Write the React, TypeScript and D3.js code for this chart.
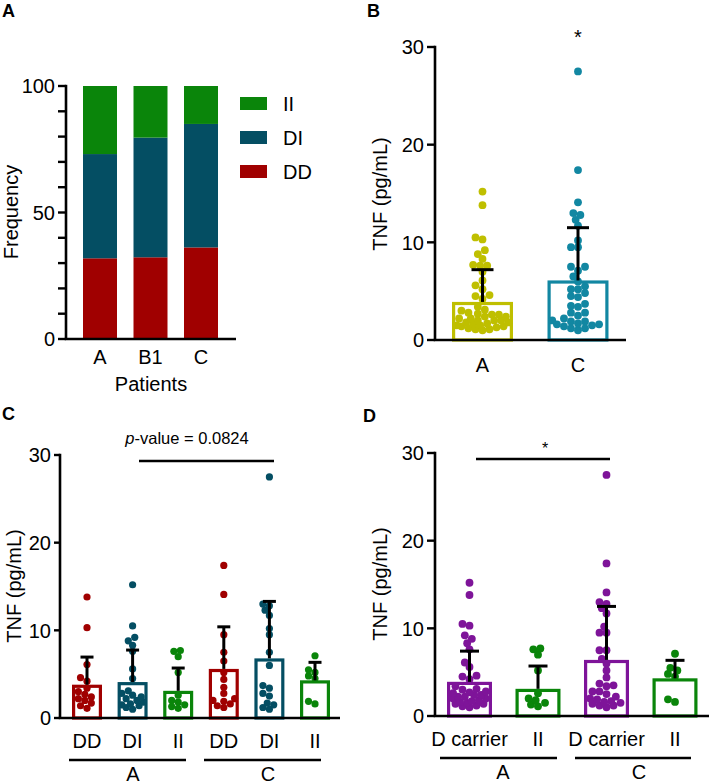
import React from "react";
import * as d3 from "d3";

// Panel A: genotype frequency (%) per patient group
const freqCats = ["A", "B1", "C"];
const freqDD = [31.9, 32.3, 36.2];
const freqDI = [41.2, 47.3, 48.8];
const freqII = [26.9, 20.4, 15.0];
const freqKeys = ["DD", "DI", "II"];
const freqTicks = [0, 10, 20, 30, 40, 50, 60, 70, 80, 90, 100];
const freqLabels = [0, 50, 100];

// Individual TNF values (pg/mL) by group and genotype
const aDD = [13.8, 10.3, 6.1, 4.6, 4.2, 3.4, 3.0, 2.7, 2.4, 2.2, 2.0, 1.7, 1.4, 1.1];
const aDI = [15.2, 10.5, 9.2, 8.8, 8.3, 7.6, 5.6, 4.5, 3.1, 2.8, 2.6, 2.4, 2.2, 2.0, 1.8, 1.6, 1.5, 1.4, 1.2, 1.0];
const aII = [7.7, 7.6, 7.0, 5.2, 2.6, 2.0, 1.8, 1.5, 1.3, 1.1];
const cDD = [17.4, 14.1, 9.5, 7.5, 6.5, 5.2, 4.4, 3.5, 2.8, 2.2, 2.0, 1.9, 1.6, 1.4, 1.2];
const cDI = [27.5, 13.0, 12.8, 12.3, 11.7, 10.2, 9.5, 7.5, 6.0, 3.7, 3.4, 2.8, 2.5, 1.7, 1.5, 1.2, 1.0];
const cII = [7.1, 5.5, 5.2, 4.8, 4.5, 1.9, 1.6];

// bar heights (mean) and error bar tops (mean + SD)
const bCats = ["A", "C"];
const bMeans = [3.9, 6.1];
const bTops = [7.2, 11.5];
const cCats = ["DD", "DI", "II", "DD", "DI", "II"];
const cMeans = [3.8, 4.1, 3.1, 5.6, 6.8, 4.3];
const cTops = [6.95, 7.75, 5.7, 10.4, 13.3, 6.35];
const dCats = ["D carrier", "II", "D carrier", "II"];
const dMeans = [3.9, 3.1, 6.4, 4.3];
const dTops = [7.4, 5.7, 12.5, 6.35];
const tnfTicks = [0, 10, 20, 30];

const RED = "#a00000";
const TEAL = "#044e63";
const GREEN = "#0a850a";
const YELLOW = "#bfbf00";
const BLUE = "#1287a2";
const PURPLE = "#7e1499";
const font = "'Liberation Sans', Arial, sans-serif";

// simple deterministic beeswarm inside a bar
function swarm(values: number[], y: (v: number) => number, cx: number, maxOff: number, r: number) {
  const placed: { x: number; y: number }[] = [];
  const sorted = [...values].sort((a, b) => a - b);
  const step = r * 0.6;
  const cands: number[] = [0];
  for (let o = step; o <= maxOff; o += step) cands.push(-o, o);
  for (const v of sorted) {
    const py = y(v);
    let best = cands[0];
    let bestD = -1;
    for (const c of cands) {
      let md = Infinity;
      for (const p of placed) md = Math.min(md, Math.hypot(p.x - (cx + c), p.y - py));
      if (md >= 2 * r * 0.8) {
        best = c;
        break;
      }
      if (md > bestD) {
        bestD = md;
        best = c;
      }
    }
    placed.push({ x: cx + best, y: py });
  }
  return placed;
}

function YAxis({ x, y, ticks, labels, len }: any) {
  return (
    <g>
      <line x1={x} x2={x} y1={y(ticks[ticks.length - 1]) - 1.2} y2={y(0)} stroke="#000" strokeWidth={2.6} />
      {ticks.map((t: number) => (
        <line key={t} x1={x - len} x2={x} y1={y(t)} y2={y(t)} stroke="#000" strokeWidth={2.4} />
      ))}
      {labels.map((t: number) => (
        <text key={t} x={x - len - 3} y={y(t)} dy="0.36em" textAnchor="end" fontSize={20} fontFamily={font}>
          {t}
        </text>
      ))}
    </g>
  );
}

function DotBars({ groups, means, tops, colors, x, y, barW, r, cap }: any) {
  return (
    <g>
      {groups.map((vals: number[], i: number) => {
        const cx = x(i);
        const pts = swarm(vals, y, cx, barW / 2 - r, r);
        return (
          <g key={i}>
            <rect
              x={cx - barW / 2 + 1.6}
              y={y(means[i]) + 1.6}
              width={barW - 3.2}
              height={y(0) - y(means[i]) - 1.6}
              fill="#fff"
              stroke={colors[i]}
              strokeWidth={3.2}
            />
            {pts.map((p, j) => (
              <circle key={j} cx={p.x} cy={p.y} r={r} fill={colors[i]} />
            ))}
            <line x1={cx} x2={cx} y1={y(means[i])} y2={y(tops[i])} stroke="#000" strokeWidth={3} />
            <line x1={cx - cap / 2} x2={cx + cap / 2} y1={y(tops[i])} y2={y(tops[i])} stroke="#000" strokeWidth={3} />
          </g>
        );
      })}
    </g>
  );
}

export default function App() {
  // Panel A
  const yA = d3.scaleLinear().domain([0, 100]).range([339, 86]);
  const xA = d3.scalePoint().domain(freqCats).range([100, 201]);
  const rowsA = freqCats.map((c, i) => ({ cat: c, DD: freqDD[i], DI: freqDI[i], II: freqII[i] }));
  const stackA = d3.stack<any>().keys(freqKeys)(rowsA);
  const colorA: Record<string, string> = { DD: RED, DI: TEAL, II: GREEN };
  const legendA = ["II", "DI", "DD"];

  // Panel B
  const yB = d3.scaleLinear().domain([0, 30]).range([340, 47]);
  const xB = d3.scalePoint<number>().domain([0, 1]).range([482.5, 578]);
  const allA = [...aDD, ...aDI, ...aII];
  const allC = [...cDD, ...cDI, ...cII];

  // Panel C
  const yC = d3.scaleLinear().domain([0, 30]).range([718, 455]);
  const xC = d3.scalePoint<number>().domain(d3.range(6)).range([87, 315]);
  const colorsC = [RED, TEAL, GREEN, RED, TEAL, GREEN];

  // Panel D
  const yD = d3.scaleLinear().domain([0, 30]).range([716, 453]);
  const xD = d3.scalePoint<number>().domain(d3.range(4)).range([469.5, 675]);
  const colorsD = [PURPLE, GREEN, PURPLE, GREEN];

  return (
    <svg width={712} height={784} style={{ position: "absolute", left: 0, top: 0, background: "#fff" }} fontFamily={font}>
      {/* ---------- A ---------- */}
      <text x={2} y={17} fontSize={18} fontWeight="bold">A</text>
      {stackA.map((s) =>
        s.map((d: any, i: number) => (
          <rect
            key={s.key + i}
            x={(xA(freqCats[i]) as number) - 17}
            width={34}
            y={yA(d[1])}
            height={yA(d[0]) - yA(d[1])}
            fill={colorA[s.key]}
          />
        ))
      )}
      <YAxis x={66} y={yA} ticks={freqTicks} labels={freqLabels} len={8} />
      <line x1={64.7} x2={236} y1={339} y2={339} stroke="#000" strokeWidth={2.6} />
      {freqCats.map((c) => (
        <text key={c} x={xA(c)} y={364} textAnchor="middle" fontSize={20}>{c}</text>
      ))}
      <text x={151} y={391} textAnchor="middle" fontSize={20}>Patients</text>
      <text transform="translate(18,212) rotate(-90)" textAnchor="middle" fontSize={20}>Frequency</text>
      {legendA.map((k, i) => (
        <g key={k}>
          <rect x={240} y={97 + i * 34} width={27} height={13} fill={colorA[k]} />
          <text x={283} y={103.5 + i * 34} dy="0.36em" fontSize={20}>{k}</text>
        </g>
      ))}

      {/* ---------- B ---------- */}
      <text x={367} y={17} fontSize={18} fontWeight="bold">B</text>
      <DotBars groups={[allA, allC]} means={bMeans} tops={bTops} colors={[YELLOW, BLUE]} x={xB} y={yB} barW={61} r={3.9} cap={22} />
      <YAxis x={435} y={yB} ticks={tnfTicks} labels={tnfTicks} len={8} />
      <line x1={433.7} x2={626} y1={340} y2={340} stroke="#000" strokeWidth={2.6} />
      {bCats.map((c, i) => (
        <text key={c} x={xB(i)} y={372} textAnchor="middle" fontSize={20}>{c}</text>
      ))}
      <text transform="translate(387,194) rotate(-90)" textAnchor="middle" fontSize={20}>TNF (pg/mL)</text>
      <text x={xB(1)} y={44} textAnchor="middle" fontSize={20}>*</text>

      {/* ---------- C ---------- */}
      <text x={2} y={420} fontSize={18} fontWeight="bold">C</text>
      <DotBars groups={[aDD, aDI, aII, cDD, cDI, cII]} means={cMeans} tops={cTops} colors={colorsC} x={xC} y={yC} barW={30} r={3.6} cap={13} />
      <YAxis x={60} y={yC} ticks={tnfTicks} labels={tnfTicks} len={6} />
      <line x1={58.7} x2={340} y1={718} y2={718} stroke="#000" strokeWidth={2.6} />
      {cCats.map((c, i) => (
        <text key={i} x={xC(i)} y={748} textAnchor="middle" fontSize={20}>{c}</text>
      ))}
      <line x1={69} x2={186} y1={760} y2={760} stroke="#000" strokeWidth={2.4} />
      <line x1={204} x2={321} y1={760} y2={760} stroke="#000" strokeWidth={2.4} />
      <text x={133} y={781} textAnchor="middle" fontSize={20}>A</text>
      <text x={268} y={781} textAnchor="middle" fontSize={20}>C</text>
      <text transform="translate(21,586) rotate(-90)" textAnchor="middle" fontSize={20}>TNF (pg/mL)</text>
      <line x1={139} x2={274} y1={461} y2={461} stroke="#000" strokeWidth={2.4} />
      <text x={187} y={444} textAnchor="middle" fontSize={16.5}>
        <tspan fontStyle="italic">p</tspan>-value = 0.0824
      </text>

      {/* ---------- D ---------- */}
      <text x={363} y={422} fontSize={18} fontWeight="bold">D</text>
      <DotBars groups={[[...aDD, ...aDI], aII, [...cDD, ...cDI], cII]} means={dMeans} tops={dTops} colors={colorsD} x={xD} y={yD} barW={45} r={3.9} cap={19} />
      <YAxis x={435} y={yD} ticks={tnfTicks} labels={tnfTicks} len={8} />
      <line x1={433.7} x2={709} y1={716} y2={716} stroke="#000" strokeWidth={2.6} />
      {dCats.map((c, i) => (
        <text key={i} x={xD(i)} y={746} textAnchor="middle" fontSize={20}>{c}</text>
      ))}
      <line x1={440} x2={557} y1={758} y2={758} stroke="#000" strokeWidth={2.4} />
      <line x1={575} x2={691} y1={758} y2={758} stroke="#000" strokeWidth={2.4} />
      <text x={503} y={779} textAnchor="middle" fontSize={20}>A</text>
      <text x={639} y={779} textAnchor="middle" fontSize={20}>C</text>
      <text transform="translate(387,584) rotate(-90)" textAnchor="middle" fontSize={20}>TNF (pg/mL)</text>
      <line x1={476} x2={610} y1={459} y2={459} stroke="#000" strokeWidth={2.4} />
      <text x={545} y={454} textAnchor="middle" fontSize={16}>*</text>
    </svg>
  );
}
